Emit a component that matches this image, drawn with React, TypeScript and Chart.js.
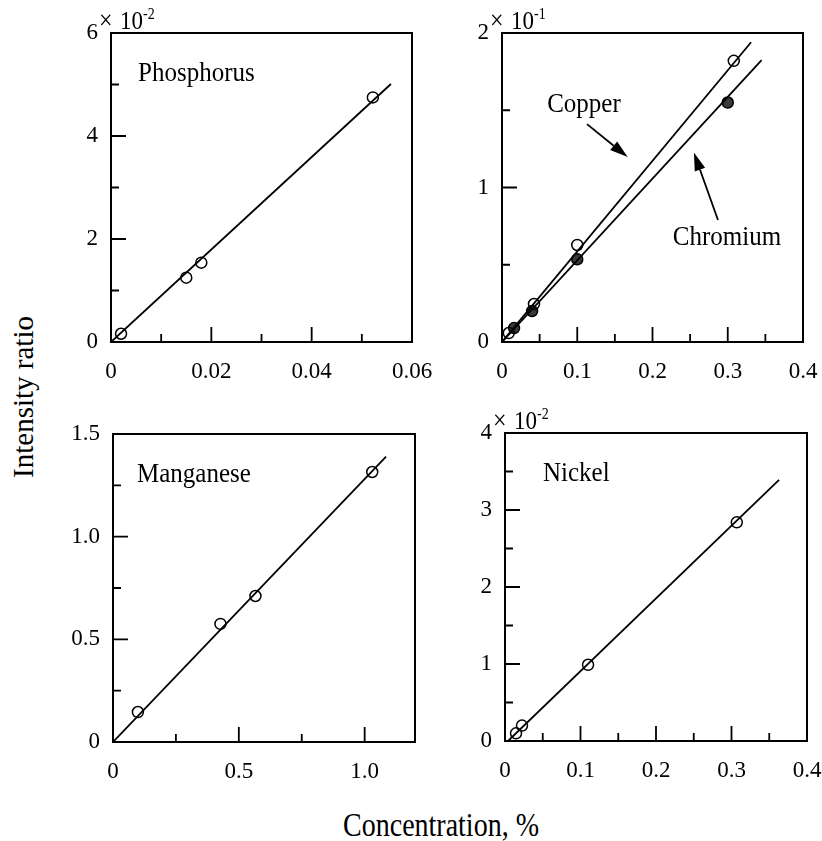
import React, { useEffect, useRef } from 'react';
import { Chart, registerables } from 'chart.js';
Chart.register(...registerables);

const FONT = '"Liberation Serif", "Times New Roman", serif';

// ---------- Data ----------
// Phosphorus (intensity ratio ×10^-2)
const phosphorusConc = [0.002, 0.015, 0.018, 0.0522];
const phosphorusRatio = [0.16, 1.25, 1.54, 4.75];
const phosphorusFitConc = [0, 0.0558];
const phosphorusFitRatio = [0, 5.01];

// Copper (intensity ratio ×10^-1)
const copperConc = [0.009, 0.0425, 0.1, 0.308];
const copperRatio = [0.058, 0.246, 0.628, 1.82];
const copperFitConc = [0, 0.331];
const copperFitRatio = [0, 1.94];

// Chromium (intensity ratio ×10^-1)
const chromiumConc = [0.016, 0.04, 0.1, 0.3];
const chromiumRatio = [0.09, 0.2, 0.535, 1.55];
const chromiumFitConc = [0, 0.345];
const chromiumFitRatio = [0, 1.825];

// Manganese
const manganeseConc = [0.099, 0.427, 0.566, 1.03];
const manganeseRatio = [0.146, 0.575, 0.711, 1.315];
const manganeseFitConc = [0, 1.085];
const manganeseFitRatio = [0, 1.39];

// Nickel (intensity ratio ×10^-2)
const nickelConc = [0.0146, 0.0225, 0.11, 0.307];
const nickelRatio = [0.1, 0.2, 0.99, 2.84];
const nickelFitConc = [0.004, 0.363];
const nickelFitRatio = [0, 3.39];

// Tick labels
const phosXTicks = [0, 0.02, 0.04, 0.06];
const phosXLabels = ['0', '0.02', '0.04', '0.06'];
const phosYTicks = [0, 2, 4, 6];
const phosYLabels = ['0', '2', '4', '6'];

const cuXTicks = [0, 0.1, 0.2, 0.3, 0.4];
const cuXLabels = ['0', '0.1', '0.2', '0.3', '0.4'];
const cuYTicks = [0, 1, 2];
const cuYLabels = ['0', '1', '2'];

const mnXTicks = [0, 0.5, 1.0];
const mnXLabels = ['0', '0.5', '1.0'];
const mnYTicks = [0, 0.5, 1.0, 1.5];
const mnYLabels = ['0', '0.5', '1.0', '1.5'];

const niXTicks = [0, 0.1, 0.2, 0.3, 0.4];
const niXLabels = ['0', '0.1', '0.2', '0.3', '0.4'];
const niYTicks = [0, 1, 2, 3, 4];
const niYLabels = ['0', '1', '2', '3', '4'];

// Annotations (data coordinates)
const copperLabel = { text: 'Copper', x: 0.06, y: 1.489 };
const chromiumLabel = { text: 'Chromium', x: 0.227, y: 0.63 };
const copperArrow = [0.113, 1.41, 0.167, 1.197];
const chromiumArrow = [0.287, 0.79, 0.255, 1.226];

// ---------- helpers ----------
const pts = (xs: number[], ys: number[]) => xs.map((x, i) => ({ x, y: ys[i] }));

const fitDs = (xs: number[], ys: number[]) => ({
  data: pts(xs, ys),
  showLine: true,
  borderColor: '#000',
  borderWidth: 1.8,
  pointRadius: 0,
  fill: false,
});

const openDs = (xs: number[], ys: number[]) => ({
  data: pts(xs, ys),
  showLine: false,
  pointRadius: 5.5,
  pointBorderWidth: 1.5,
  pointBorderColor: '#000',
  pointBackgroundColor: 'rgba(0,0,0,0)',
  clip: false,
});

const filledDs = (xs: number[], ys: number[]) => ({
  data: pts(xs, ys),
  showLine: false,
  pointRadius: 5.5,
  pointBorderWidth: 1.5,
  pointBorderColor: '#000',
  pointBackgroundColor: '#3a3a3a',
  clip: false,
});

type AxisSpec = { min: number; max: number; step: number; major: number[]; labels: string[] };
type PanelSpec = {
  box: { left: number; top: number; width: number; height: number };
  padTop: number;
  padRight: number;
  yAxisWidth: number;
  xAxisHeight: number;
  x: AxisSpec;
  y: AxisSpec;
  datasets: any[];
  name?: string;
  nameDx?: number;
  exponent?: string;
  texts?: { text: string; x: number; y: number }[];
  arrows?: number[][];
};

const panels: PanelSpec[] = [
  {
    box: { left: 60, top: 0, width: 385, height: 395 },
    padTop: 33, padRight: 33, yAxisWidth: 51, xAxisHeight: 53,
    x: { min: 0, max: 0.06, step: 0.01, major: phosXTicks, labels: phosXLabels },
    y: { min: 0, max: 6, step: 1, major: phosYTicks, labels: phosYLabels },
    datasets: [fitDs(phosphorusFitConc, phosphorusFitRatio), openDs(phosphorusConc, phosphorusRatio)],
    name: 'Phosphorus', nameDx: 27, exponent: '-2',
  },
  {
    box: { left: 445, top: 0, width: 377, height: 395 },
    padTop: 33, padRight: 19, yAxisWidth: 57, xAxisHeight: 53,
    x: { min: 0, max: 0.4, step: 0.05, major: cuXTicks, labels: cuXLabels },
    y: { min: 0, max: 2, step: 0.5, major: cuYTicks, labels: cuYLabels },
    datasets: [
      fitDs(copperFitConc, copperFitRatio),
      fitDs(chromiumFitConc, chromiumFitRatio),
      openDs(copperConc, copperRatio),
      filledDs(chromiumConc, chromiumRatio),
    ],
    exponent: '-1',
    texts: [copperLabel, chromiumLabel],
    arrows: [copperArrow, chromiumArrow],
  },
  {
    box: { left: 60, top: 395, width: 385, height: 400 },
    padTop: 39, padRight: 30, yAxisWidth: 53, xAxisHeight: 53,
    x: { min: 0, max: 1.2, step: 0.25, major: mnXTicks, labels: mnXLabels },
    y: { min: 0, max: 1.5, step: 0.25, major: mnYTicks, labels: mnYLabels },
    datasets: [fitDs(manganeseFitConc, manganeseFitRatio), openDs(manganeseConc, manganeseRatio)],
    name: 'Manganese', nameDx: 24,
  },
  {
    box: { left: 445, top: 395, width: 377, height: 400 },
    padTop: 38, padRight: 15, yAxisWidth: 60, xAxisHeight: 54,
    x: { min: 0, max: 0.4, step: 0.05, major: niXTicks, labels: niXLabels },
    y: { min: 0, max: 4, step: 0.5, major: niYTicks, labels: niYLabels },
    datasets: [fitDs(nickelFitConc, nickelFitRatio), openDs(nickelConc, nickelRatio)],
    name: 'Nickel', nameDx: 38, exponent: '-2',
  },
];

const near = (a: number, b: number) => Math.abs(a - b) < 1e-6;

function makeDecor(spec: PanelSpec) {
  return {
    id: 'decor',
    afterDatasetsDraw(chart: any) {
      const { ctx, chartArea: a, scales } = chart;
      const xs = scales.x;
      const ys = scales.y;
      ctx.save();
      ctx.strokeStyle = '#000';
      ctx.fillStyle = '#000';
      ctx.lineWidth = 2;
      ctx.strokeRect(a.left, a.top, a.right - a.left, a.bottom - a.top);

      // inward ticks
      ctx.lineWidth = 1.8;
      ctx.beginPath();
      xs.ticks.forEach((t: any) => {
        if (near(t.value, spec.x.min) || near(t.value, spec.x.max)) return;
        const px = xs.getPixelForValue(t.value);
        const len = spec.x.major.some((m) => near(m, t.value)) ? 15 : 8;
        ctx.moveTo(px, a.bottom);
        ctx.lineTo(px, a.bottom - len);
      });
      ys.ticks.forEach((t: any) => {
        if (near(t.value, spec.y.min) || near(t.value, spec.y.max)) return;
        const py = ys.getPixelForValue(t.value);
        const len = spec.y.major.some((m) => near(m, t.value)) ? 15 : 8;
        ctx.moveTo(a.left, py);
        ctx.lineTo(a.left + len, py);
      });
      ctx.stroke();

      ctx.textAlign = 'left';
      ctx.textBaseline = 'alphabetic';

      // exponent multiplier
      if (spec.exponent) {
        ctx.save();
        ctx.translate(a.left, a.top - 4);
        ctx.scale(1, 1.12);
        ctx.font = `24px ${FONT}`;
        ctx.fillText('\u00d7', -12, 0);
        ctx.font = `23px ${FONT}`;
        ctx.fillText('10', 9, 0);
        const w = ctx.measureText('10').width;
        ctx.font = `14px ${FONT}`;
        ctx.fillText(spec.exponent, 9 + w, -9);
        ctx.restore();
      }

      // panel name and annotation text
      const drawText = (s: string, x: number, y: number) => {
        ctx.save();
        ctx.translate(x, y);
        ctx.scale(1, 1.1);
        ctx.font = `25px ${FONT}`;
        ctx.fillText(s, 0, 0);
        ctx.restore();
      };
      if (spec.name) drawText(spec.name, a.left + (spec.nameDx || 27), a.top + 48);
      (spec.texts || []).forEach((t) => drawText(t.text, xs.getPixelForValue(t.x), ys.getPixelForValue(t.y)));

      // arrows
      (spec.arrows || []).forEach((ar) => {
        const x0 = xs.getPixelForValue(ar[0]);
        const y0 = ys.getPixelForValue(ar[1]);
        const x1 = xs.getPixelForValue(ar[2]);
        const y1 = ys.getPixelForValue(ar[3]);
        const ang = Math.atan2(y1 - y0, x1 - x0);
        const hl = 18;
        const hw = 5.5;
        const bx = x1 - hl * Math.cos(ang);
        const by = y1 - hl * Math.sin(ang);
        ctx.lineWidth = 1.8;
        ctx.beginPath();
        ctx.moveTo(x0, y0);
        ctx.lineTo(bx, by);
        ctx.stroke();
        ctx.beginPath();
        ctx.moveTo(x1, y1);
        ctx.lineTo(bx + hw * Math.sin(ang), by - hw * Math.cos(ang));
        ctx.lineTo(bx - hw * Math.sin(ang), by + hw * Math.cos(ang));
        ctx.closePath();
        ctx.fill();
      });
      ctx.restore();
    },
  };
}

function axisOptions(ax: AxisSpec, isX: boolean, size: number) {
  return {
    type: 'linear',
    min: ax.min,
    max: ax.max,
    // tick marks are drawn by the decor plugin; tickLength only offsets the labels
    grid: { display: false, drawTicks: true, tickLength: isX ? 16 : 13 },
    border: { display: false },
    ticks: {
      stepSize: ax.step,
      includeBounds: false,
      autoSkip: false,
      maxRotation: 0,
      minRotation: 0,
      padding: 0,
      color: '#000',
      font: { family: FONT, size: 23 },
      callback: (v: number) => {
        const i = ax.major.findIndex((m) => near(m, v));
        return i >= 0 ? ax.labels[i] : '';
      },
    },
    afterFit: (s: any) => {
      if (isX) s.height = size;
      else s.width = size;
    },
  };
}

function Panel({ spec }: { spec: PanelSpec }) {
  const ref = useRef<HTMLCanvasElement>(null);
  useEffect(() => {
    if (!ref.current) return;
    const chart = new Chart(ref.current, {
      type: 'scatter',
      data: { datasets: spec.datasets as any },
      options: {
        animation: false,
        responsive: false,
        devicePixelRatio: 1,
        events: [],
        layout: { padding: { top: spec.padTop, right: spec.padRight, left: 0, bottom: 0 } },
        plugins: { legend: { display: false }, tooltip: { enabled: false }, title: { display: false } },
        scales: {
          x: axisOptions(spec.x, true, spec.xAxisHeight) as any,
          y: axisOptions(spec.y, false, spec.yAxisWidth) as any,
        },
      },
      plugins: [makeDecor(spec)],
    });
    return () => chart.destroy();
  }, [spec]);
  return (
    <canvas
      ref={ref}
      width={spec.box.width}
      height={spec.box.height}
      style={{ position: 'absolute', left: spec.box.left, top: spec.box.top, width: spec.box.width, height: spec.box.height }}
    />
  );
}

export default function App() {
  return (
    <div style={{ position: 'absolute', left: 0, top: 0, width: 822, height: 841, background: '#fff', overflow: 'hidden' }}>
      {panels.map((p, i) => (
        <Panel key={i} spec={p} />
      ))}
      <div
        style={{
          position: 'absolute', left: 23, top: 397, fontFamily: FONT, fontSize: 29, lineHeight: '29px',
          whiteSpace: 'nowrap', color: '#000',
          transform: 'translate(-50%, -50%) rotate(-90deg)',
        }}
      >
        Intensity ratio
      </div>
      <div
        style={{
          position: 'absolute', left: 441, top: 811, fontFamily: FONT, fontSize: 28, lineHeight: '28px',
          whiteSpace: 'nowrap', color: '#000',
          transform: 'translateX(-50%) scale(1, 1.18)',
        }}
      >
        Concentration, %
      </div>
    </div>
  );
}
